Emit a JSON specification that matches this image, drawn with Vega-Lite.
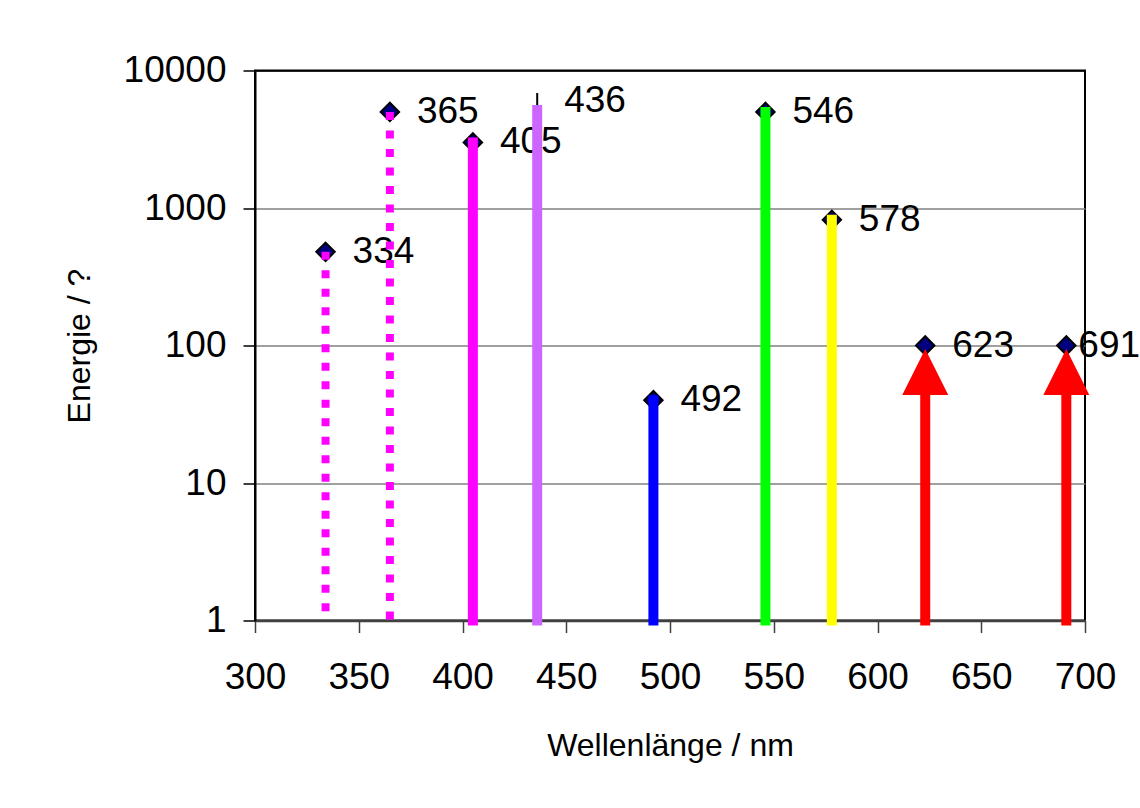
{
  "$schema": "https://vega.github.io/schema/vega-lite/v6.json",
  "autosize": "none",
  "width": 830,
  "height": 550,
  "padding": {"left": 255, "top": 70.5, "right": 55, "bottom": 187.5},
  "background": "white",
  "config": {
    "font": "Liberation Sans",
    "view": {"stroke": "black", "strokeWidth": 2},
    "axis": {"labelFont": "Liberation Sans", "titleFont": "Liberation Sans", "labelColor": "black", "titleColor": "black", "titleFontWeight": "normal"}
  },
  "data": {
    "values": [
      {"nm": 334, "energy": 480, "kind": "dotted"},
      {"nm": 365, "energy": 5000, "kind": "dotted"},
      {"nm": 405, "energy": 3000, "kind": "solid"},
      {"nm": 436, "energy": 6000, "kind": "solid436"},
      {"nm": 492, "energy": 40, "kind": "solid"},
      {"nm": 546, "energy": 5000, "kind": "solid"},
      {"nm": 578, "energy": 820, "kind": "solid"},
      {"nm": 623, "energy": 100, "kind": "arrow"},
      {"nm": 691, "energy": 100, "kind": "arrow"}
    ]
  },
  "encoding": {
    "x": {
      "field": "nm", "type": "quantitative",
      "scale": {"domain": [300, 700], "nice": false, "zero": false},
      "axis": {
        "title": "Wellenlänge / nm",
        "values": [300, 350, 400, 450, 500, 550, 600, 650, 700],
        "grid": false,
        "labelFontSize": 37,
        "labelPadding": 27,
        "labelFlush": false,
        "labelOverlap": false,
        "tickSize": 12,
        "tickColor": "#404040",
        "tickWidth": 1.5,
        "domainColor": "#404040",
        "domainWidth": 2.5,
        "titleFontSize": 32,
        "titleBaseline": "alphabetic",
        "titleY": 135
      }
    },
    "y": {
      "field": "energy", "type": "quantitative",
      "scale": {"type": "log", "domain": [1, 10000], "nice": false},
      "axis": {
        "title": "Energie / ?",
        "values": [1, 10, 100, 1000, 10000],
        "format": "d",
        "labelFontSize": 37,
        "labelPadding": 17,
        "labelFlush": false,
        "labelOverlap": false,
        "tickSize": 12,
        "tickColor": "black",
        "tickWidth": 1.5,
        "domainColor": "black",
        "domainWidth": 2,
        "grid": true,
        "gridColor": {"condition": {"test": "datum.value === 10000", "value": "black"}, "value": "#808080"},
        "gridWidth": 1.5,
        "titleFontSize": 32,
        "titleAngle": 270,
        "titleBaseline": "alphabetic",
        "titleAlign": "center",
        "titleX": -166,
        "titleY": 275
      }
    },
    "color": {
      "field": "nm", "type": "nominal",
      "scale": {
        "domain": [334, 365, 405, 436, 492, 546, 578, 623, 691],
        "range": ["#FF00FF", "#FF00FF", "#FF00FF", "#CC66FF", "#0000FF", "#00FF00", "#FFFF00", "#FF0000", "#FF0000"]
      },
      "legend": null
    }
  },
  "layer": [
    {
      "transform": [{"filter": "datum.nm !== 691"}],
      "mark": {"type": "text", "align": "left", "baseline": "middle", "dx": 27, "fontSize": 37, "color": "black"},
      "encoding": {"text": {"field": "nm", "type": "nominal"}, "color": {"value": "black"}}
    },
    {
      "transform": [{"filter": "datum.nm === 691"}],
      "mark": {"type": "text", "align": "left", "baseline": "middle", "dx": 12, "fontSize": 37, "color": "black"},
      "encoding": {"text": {"field": "nm", "type": "nominal"}, "color": {"value": "black"}}
    },
    {
      "transform": [{"filter": "datum.nm !== 436"}],
      "mark": {"type": "point", "shape": "diamond", "size": 340, "filled": true, "fill": "#000080", "stroke": "black", "strokeWidth": 2, "opacity": 1},
      "encoding": {"color": {"value": "#000080"}}
    },
    {
      "transform": [{"filter": "datum.nm === 436"}],
      "mark": {"type": "point", "shape": "M0,-1L0,1", "size": 256, "filled": false, "stroke": "black", "strokeWidth": 2, "opacity": 1},
      "encoding": {"color": {"value": "black"}}
    },
    {
      "transform": [{"filter": "datum.kind === 'dotted'"}],
      "mark": {"type": "rule", "strokeWidth": 8, "strokeDash": [8, 10.5], "strokeCap": "butt"},
      "encoding": {"y2": {"datum": 1}}
    },
    {
      "transform": [{"filter": "datum.kind === 'solid'"}],
      "mark": {"type": "rule", "strokeWidth": 10, "strokeCap": "butt", "yOffset": -5, "y2Offset": 5},
      "encoding": {"y2": {"datum": 1}}
    },
    {
      "transform": [{"filter": "datum.kind === 'solid436'"}],
      "mark": {"type": "rule", "strokeWidth": 10, "strokeCap": "butt", "yOffset": 4, "y2Offset": 5},
      "encoding": {"y2": {"datum": 1}}
    },
    {
      "transform": [{"filter": "datum.kind === 'arrow'"}],
      "mark": {"type": "rule", "strokeWidth": 10, "strokeCap": "butt", "yOffset": 40, "y2Offset": 5},
      "encoding": {"y2": {"datum": 1}}
    },
    {
      "transform": [{"filter": "datum.kind === 'arrow'"}],
      "mark": {"type": "point", "shape": "M0,-1L1,1L-1,1Z", "size": 2116, "filled": true, "opacity": 1, "strokeWidth": 0, "yOffset": 26.5}
    }
  ]
}
